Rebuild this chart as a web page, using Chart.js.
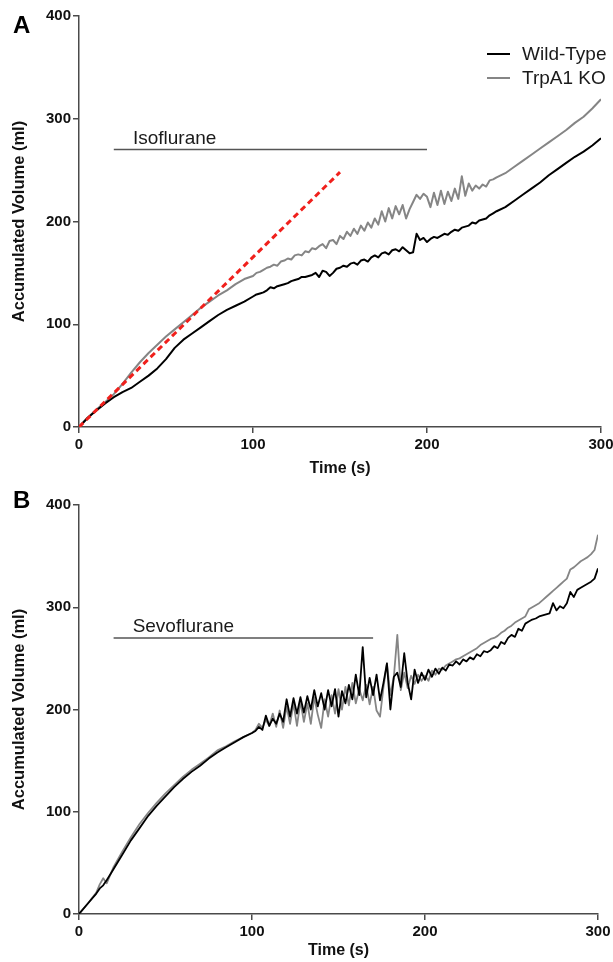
<!DOCTYPE html>
<html>
<head>
<meta charset="utf-8">
<title>Accumulated Volume</title>
<script src="https://cdn.jsdelivr.net/npm/chart.js@4.4.1/dist/chart.umd.min.js"></script>
<style>
  body { margin: 0; background: #fff; }
  #wrap { position: relative; width: 613px; height: 962px; }
  canvas { position: absolute; left: 0; }
  #chartA { top: 0; }
  #chartB { top: 480px; }
</style>
</head>
<body>
<div id="wrap">
  <canvas id="chartA" width="613" height="480"></canvas>
  <canvas id="chartB" width="613" height="482"></canvas>
</div>
<script>
// ---- panel A (Isoflurane) ----
const timeA = [0, 5, 10, 15, 20, 25, 30, 35, 40, 45, 50, 55, 60, 65, 70, 75, 80, 85, 90, 95,
  100, 102, 104, 106, 108, 110, 112, 114, 116, 118, 120, 122, 124, 126, 128, 130, 132, 134, 136, 138,
  140, 142, 144, 146, 148, 150, 152, 154, 156, 158, 160, 162, 164, 166, 168, 170, 172, 174, 176, 178,
  180, 182, 184, 186, 188, 190, 192, 194, 196, 198, 200, 202, 204, 206, 208, 210, 212, 214, 216, 218,
  220, 222, 224, 226, 228, 230, 232, 234, 236, 238, 240, 245, 250, 255, 260, 265, 270, 275, 280, 285,
  290, 295, 300];
const wildTypeA = [0, 9, 16, 23, 29, 34, 38, 44, 50, 57, 66, 77, 85, 91, 97, 103, 109, 114, 118, 122,
  127, 129, 130, 131, 133, 136, 135, 137, 138, 139, 140, 142, 143, 144, 146, 146, 147, 148, 150, 146,
  152, 151, 147, 150, 154, 155, 157, 156, 159, 160, 158, 162, 163, 161, 165, 167, 165, 169, 170, 168,
  172, 173, 171, 175, 172, 169, 170, 188, 182, 184, 180, 183, 185, 184, 186, 188, 187, 190, 192, 191,
  194, 195, 196, 199, 198, 201, 202, 203, 206, 208, 210, 214, 220, 226, 232, 238, 245, 251, 257, 263,
  268, 274, 281];
const trpa1KoA = [0, 9, 17, 24, 32, 42, 53, 63, 72, 80, 88, 95, 102, 109, 116, 122, 128, 133, 139, 144,
  147, 150, 151, 153, 155, 156, 158, 157, 161, 162, 164, 163, 167, 168, 167, 171, 170, 174, 173, 176,
  178, 174, 181, 182, 178, 186, 183, 190, 186, 193, 188, 196, 191, 199, 194, 203, 197, 210, 200, 213,
  203, 215, 207, 216, 203, 212, 219, 226, 222, 227, 224, 214, 228, 216, 230, 217, 229, 220, 232, 222,
  244, 225, 237, 230, 235, 232, 236, 234, 240, 241, 243, 247, 253, 259, 265, 271, 277, 283, 289, 296,
  302, 310, 319];
const slopeLineT = [0, 150];
const slopeLineV = [0, 248];
const isofluraneT = [20, 200];

// ---- panel B (Sevoflurane) ----
const timeB = [0, 5, 10, 12, 14, 16, 20, 25, 30, 35, 40, 45, 50, 55, 60, 65, 70, 75, 80, 85, 90, 95,
  100, 102, 104, 106, 108, 110, 112, 114, 116, 118, 120, 122, 124, 126, 128, 130, 132, 134, 136, 138,
  140, 142, 144, 146, 148, 150, 152, 154, 156, 158, 160, 162, 164, 166, 168, 170, 172, 174, 176, 178,
  180, 182, 184, 186, 188, 190, 192, 194, 196, 198, 200, 202, 204, 206, 208, 210, 212, 214, 216, 218,
  220, 222, 224, 226, 228, 230, 232, 234, 236, 238, 240, 242, 244, 246, 248, 250, 252, 254, 256, 258,
  260, 262, 264, 266, 268, 270, 272, 274, 276, 278, 280, 282, 284, 286, 288, 290, 292, 294, 296, 298, 300];
const wildTypeB = [0, 10, 20, 25, 28, 33, 44, 58, 72, 84, 96, 106, 115, 124, 132, 139, 145, 152, 158, 163, 168, 173,
  177, 179, 183, 180, 194, 184, 191, 186, 196, 188, 210, 193, 211, 196, 212, 197, 213, 200, 219, 203,
  216, 200, 219, 203, 220, 193, 218, 206, 224, 210, 234, 214, 261, 212, 231, 214, 234, 209, 226, 245,
  200, 232, 236, 222, 255, 226, 210, 239, 226, 236, 229, 239, 232, 240, 235, 241, 238, 244, 243, 247,
  244, 249, 247, 251, 249, 254, 252, 257, 256, 258, 262, 260, 266, 264, 270, 273, 271, 279, 277, 284,
  286, 288, 289, 291, 292, 293, 294, 304, 297, 301, 299, 304, 315, 310, 317, 319, 321, 323, 325, 328, 338];
const trpa1KoB = [0, 10, 21, 29, 35, 30, 46, 61, 75, 88, 99, 109, 118, 126, 134, 141, 147, 153, 160, 164, 169, 173,
  177, 180, 186, 182, 190, 184, 196, 183, 199, 182, 203, 186, 206, 184, 208, 188, 206, 186, 212, 195,
  182, 210, 193, 214, 196, 220, 200, 222, 204, 226, 206, 220, 209, 224, 205, 222, 199, 193, 222, 245,
  214, 232, 273, 219, 236, 221, 233, 225, 234, 228, 233, 228, 238, 234, 240, 239, 243, 245, 247, 249,
  250, 252, 254, 256, 258, 260, 263, 265, 267, 269, 270, 272, 275, 277, 280, 282, 285, 287, 289, 291,
  298, 300, 302, 304, 307, 310, 313, 316, 319, 322, 325, 328, 337, 339, 342, 345, 347, 349, 352, 356, 371];
const sevofluraneT = [20, 170];

const treatmentLevel = 270;
const yTicks = [0, 100, 200, 300, 400];
const xTicks = [0, 100, 200, 300];
const seriesNames = ['Wild-Type', 'TrpA1 KO'];

const FONT = '"Liberation Sans", Arial, Helvetica, sans-serif';
const AXIS_COLOR = '#4a4a4a';
const KO_COLOR = '#858585';

function pairs(xs, ys) {
  return xs.map((x, i) => ({ x: x, y: ys[i] }));
}

// text that sits on the chart (panel letter, drug label, legend)
const overlayPlugin = {
  id: 'overlay',
  afterDraw(chart) {
    const o = chart.options.plugins.overlay;
    const ctx = chart.ctx;
    const xs = chart.scales.x, ys = chart.scales.y;
    ctx.save();
    ctx.fillStyle = '#000';
    ctx.textAlign = 'left';
    ctx.textBaseline = 'alphabetic';
    ctx.font = 'bold 24px ' + FONT;
    ctx.fillText(o.letter, o.letterX, o.letterY);

    ctx.font = '19px ' + FONT;
    ctx.fillStyle = '#1a1a1a';
    ctx.fillText(o.drug, xs.getPixelForValue(o.drugT), ys.getPixelForValue(treatmentLevel) - 6);

    if (o.legend) {
      const rows = [54, 78];
      chart.data.datasets.filter(d => seriesNames.includes(d.label)).forEach((d, i) => {
        ctx.strokeStyle = d.borderColor;
        ctx.lineWidth = 2;
        ctx.beginPath();
        ctx.moveTo(487, rows[i]);
        ctx.lineTo(510, rows[i]);
        ctx.stroke();
        ctx.fillStyle = '#1a1a1a';
        ctx.textBaseline = 'middle';
        ctx.fillText(d.label, 522, rows[i] + 1);
      });
    }
    ctx.restore();
  }
};

function makeChart(id, datasets, box, overlay) {
  return new Chart(document.getElementById(id), {
    type: 'line',
    data: { datasets: datasets },
    plugins: [overlayPlugin],
    options: {
      responsive: false,
      animation: false,
      events: [],
      layout: { padding: { top: box.top, right: box.right, left: 0, bottom: 0 } },
      elements: { point: { radius: 0 }, line: { tension: 0, borderJoinStyle: 'round' } },
      plugins: { legend: { display: false }, tooltip: { enabled: false }, overlay: overlay },
      scales: {
        x: {
          type: 'linear', min: 0, max: 300,
          afterBuildTicks: s => { s.ticks = xTicks.map(v => ({ value: v })); },
          afterFit: s => { s.height = box.xHeight; s.paddingLeft = 0; s.paddingRight = 0; },
          grid: { drawOnChartArea: false, drawTicks: true, tickLength: 6, color: AXIS_COLOR, lineWidth: 1.5 },
          border: { color: AXIS_COLOR, width: 1.5 },
          ticks: { color: '#111', padding: 3, font: { family: FONT, size: 15, weight: 'bold' }, maxRotation: 0 },
          title: { display: true, text: 'Time (s)', color: '#111', padding: { top: 2, bottom: 2 },
                   font: { family: FONT, size: 16, weight: 'bold' } }
        },
        y: {
          type: 'linear', min: 0, max: 400,
          afterBuildTicks: s => { s.ticks = yTicks.map(v => ({ value: v })); },
          afterFit: s => { s.width = 79; s.paddingTop = 0; s.paddingBottom = 0; },
          grid: { drawOnChartArea: false, drawTicks: true, tickLength: 6, color: AXIS_COLOR, lineWidth: 1.5 },
          border: { color: AXIS_COLOR, width: 1.5 },
          ticks: { color: '#111', padding: 2, font: { family: FONT, size: 15, weight: 'bold' } },
          title: { display: true, text: 'Accumulated Volume (ml)', color: '#111', padding: { top: 10, bottom: 2 },
                   font: { family: FONT, size: 16.5, weight: 'bold' } }
        }
      }
    }
  });
}

function drugBar(xs) {
  return { label: 'bar', data: pairs(xs, [treatmentLevel, treatmentLevel]), borderColor: '#555',
           borderWidth: 1.5, order: 3 };
}

makeChart('chartA', [
  { label: 'slope', data: pairs(slopeLineT, slopeLineV), borderColor: '#f0201c', borderWidth: 3,
    borderDash: [6, 4], borderCapStyle: 'butt', order: 0 },
  { label: seriesNames[0], data: pairs(timeA, wildTypeA), borderColor: '#000', borderWidth: 2, order: 1 },
  { label: seriesNames[1], data: pairs(timeA, trpa1KoA), borderColor: KO_COLOR, borderWidth: 2, order: 2 },
  drugBar(isofluraneT)
], { top: 16, right: 12, xHeight: 53 },
   { letter: 'A', letterX: 13, letterY: 33, drug: 'Isoflurane', drugT: 31, legend: true });

makeChart('chartB', [
  { label: seriesNames[0], data: pairs(timeB, wildTypeB), borderColor: '#000', borderWidth: 1.8, order: 1 },
  { label: seriesNames[1], data: pairs(timeB, trpa1KoB), borderColor: KO_COLOR, borderWidth: 1.8, order: 2 },
  drugBar(sevofluraneT)
], { top: 25, right: 15, xHeight: 48 },
   { letter: 'B', letterX: 13, letterY: 28, drug: 'Sevoflurane', drugT: 31, legend: false });
</script>
</body>
</html>
